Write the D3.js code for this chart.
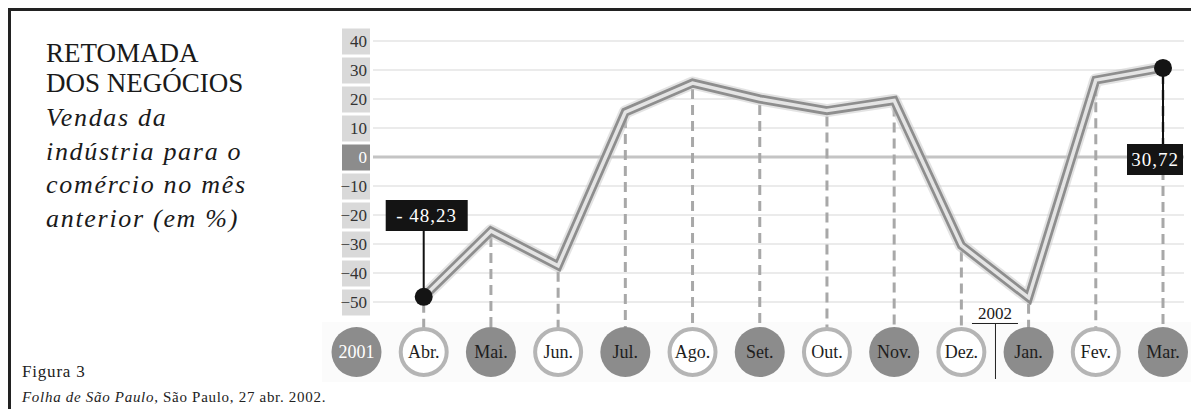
<!DOCTYPE html>
<html>
<head>
<meta charset="utf-8">
<script src="https://cdn.jsdelivr.net/npm/d3@7"></script>
<style>
  body { margin: 0; background: #fff; }
  svg { display: block; font-family: 'Liberation Serif', 'DejaVu Serif', serif; }
</style>
</head>
<body>
<div class="chart"></div>
<script>
// Vendas da industria para o comercio (variacao %, mes anterior)
const CATEGORIES = ['2001', 'Abr.', 'Mai.', 'Jun.', 'Jul.', 'Ago.', 'Set.', 'Out.', 'Nov.', 'Dez.', 'Jan.', 'Fev.', 'Mar.']
const MONTHS = ['Abr.', 'Mai.', 'Jun.', 'Jul.', 'Ago.', 'Set.', 'Out.', 'Nov.', 'Dez.', 'Jan.', 'Fev.', 'Mar.']
const VALUES = [-48.23, -25.5, -37.5, 15.5, 25.5, 20, 16, 19.5, -30.5, -48.5, 26.5, 30.72]
const Y_TICKS = [40, 30, 20, 10, 0, -10, -20, -30, -40, -50]
const TITLE = ['RETOMADA', 'DOS NEGÓCIOS']
const SUBTITLE = ['Vendas da', 'indústria para o', 'comércio no mês', 'anterior (em %)']
const CALLOUTS = [{ month: 'Abr.', text: '- 48,23' }, { month: 'Mar.', text: '30,72' }]

const W = 1191, H = 409

var svg = d3.select('.chart').append('svg')
    .attr('width', W)
    .attr('height', H)

var xScale = d3.scalePoint()
    .domain(CATEGORIES)
    .range([356.5, 1163])

var yScale = d3.scaleLinear()
    .domain([-50, 40])
    .range([302, 41])

var data = MONTHS.map((m, i) => ({ month: m, value: VALUES[i] }))

// frame
svg.append('path')
    .attr('d', `M9.5,${H} V9.5 H${W}`)
    .attr('fill', 'none')
    .attr('stroke', '#222')
    .attr('stroke-width', 3)

// faint band behind month bubbles
svg.append('rect')
    .attr('x', 322).attr('y', 322)
    .attr('width', W - 322).attr('height', 60)
    .attr('fill', '#fbfbfb')

// title block
svg.selectAll('.title')
    .data(TITLE)
    .enter().append('text')
    .attr('class', 'title')
    .attr('x', 46)
    .attr('y', (d, i) => 62 + i * 30)
    .attr('font-size', 27)
    .attr('fill', '#1a1a1a')
    .text(d => d)

svg.selectAll('.subtitle')
    .data(SUBTITLE)
    .enter().append('text')
    .attr('class', 'subtitle')
    .attr('x', 46)
    .attr('y', (d, i) => 126 + i * 33.5)
    .attr('font-size', 26)
    .attr('font-style', 'italic')
    .attr('letter-spacing', 1.7)
    .attr('fill', '#1a1a1a')
    .text(d => d)

// grid lines
svg.append('g').selectAll('line')
    .data(Y_TICKS)
    .enter().append('line')
    .attr('x1', 373).attr('x2', 1184)
    .attr('y1', d => yScale(d)).attr('y2', d => yScale(d))
    .attr('stroke', d => d === 0 ? '#c4c4c4' : '#ebebeb')
    .attr('stroke-width', d => d === 0 ? 3 : 2)

// y axis labels in boxes
var yAxis = svg.append('g')
    .attr('transform', 'translate(370,0)')
    .call(d3.axisLeft(yScale).tickValues(Y_TICKS).tickSize(0).tickPadding(3))
yAxis.select('.domain').remove()
yAxis.selectAll('.tick').insert('rect', 'text')
    .attr('x', -28).attr('y', -13)
    .attr('width', 28).attr('height', 26)
    .attr('fill', d => d === 0 ? '#8c8c8c' : '#d9d9d9')
yAxis.selectAll('.tick text')
    .attr('font-family', "'Liberation Serif', serif")
    .attr('font-size', 17)
    .attr('fill', d => d === 0 ? '#fff' : '#333')

// dashed drop lines
svg.append('g').selectAll('line')
    .data(data)
    .enter().append('line')
    .attr('x1', d => xScale(d.month)).attr('x2', d => xScale(d.month))
    .attr('y1', d => yScale(d.value) + 6).attr('y2', 328)
    .attr('stroke', '#a8a8a8')
    .attr('stroke-width', 3)
    .attr('stroke-dasharray', '10,6')

// the line (double stroke)
var line = d3.line()
    .x(d => xScale(d.month))
    .y(d => yScale(d.value))

svg.append('path')
    .datum(data)
    .attr('d', line)
    .attr('fill', 'none')
    .attr('stroke', '#c8c8c8')
    .attr('stroke-width', 13)
    .attr('stroke-linejoin', 'round')
    .attr('opacity', 0.5)
svg.append('path')
    .datum(data)
    .attr('d', line)
    .attr('fill', 'none')
    .attr('stroke', '#8e8e8e')
    .attr('stroke-width', 9)
svg.append('path')
    .datum(data)
    .attr('d', line)
    .attr('fill', 'none')
    .attr('stroke', '#e4e4e4')
    .attr('stroke-width', 3.5)

// month bubbles
var bubbles = svg.append('g').selectAll('g')
    .data(CATEGORIES)
    .enter().append('g')
    .attr('transform', d => `translate(${xScale(d)}, 352)`)

bubbles.append('circle')
    .attr('r', (d, i) => i % 2 === 0 ? 25 : 23)
    .attr('fill', (d, i) => i % 2 === 0 ? '#8c8c8c' : '#fff')
    .attr('stroke', (d, i) => i % 2 === 0 ? 'none' : '#b5b5b5')
    .attr('stroke-width', 4)

bubbles.append('text')
    .attr('text-anchor', 'middle')
    .attr('dy', 6)
    .attr('font-size', 18)
    .attr('fill', (d, i) => i === 0 ? '#fff' : '#1e1e1e')
    .text(d => d)

// 2002 marker
var sep = (xScale('Dez.') + xScale('Jan.')) / 2
svg.append('text')
    .attr('x', sep).attr('y', 319)
    .attr('text-anchor', 'middle')
    .attr('font-size', 17)
    .attr('fill', '#1a1a1a')
    .text('2002')
svg.append('line')
    .attr('x1', sep - 23).attr('x2', sep + 23)
    .attr('y1', 323.5).attr('y2', 323.5)
    .attr('stroke', '#222')
svg.append('line')
    .attr('x1', sep + 0.5).attr('x2', sep + 0.5)
    .attr('y1', 323.5).attr('y2', 379)
    .attr('stroke', '#222')

// callouts
CALLOUTS.forEach(c => {
    var v = data.find(d => d.month === c.month).value
    var px = xScale(c.month), py = yScale(v)
    var above = c.month === 'Abr.'
    var bx = above ? px - 38 : px - 36
    var bw = above ? 82 : 56
    var by = above ? 200 : 144
    var bh = 31
    svg.append('line')
        .attr('x1', px).attr('x2', px)
        .attr('y1', py).attr('y2', above ? by + bh : by)
        .attr('stroke', '#111').attr('stroke-width', 2)
    svg.append('rect')
        .attr('x', bx).attr('y', by)
        .attr('width', bw).attr('height', bh)
        .attr('fill', '#141414')
    svg.append('text')
        .attr('x', bx + bw / 2).attr('y', by + 22)
        .attr('text-anchor', 'middle')
        .attr('font-size', 19)
        .attr('letter-spacing', 1)
        .attr('fill', '#fff')
        .text(c.text)
    svg.append('circle')
        .attr('cx', px).attr('cy', py)
        .attr('r', 9)
        .attr('fill', '#141414')
})

// source
svg.append('text')
    .attr('x', 22).attr('y', 377)
    .attr('font-size', 17)
    .attr('letter-spacing', 0.8)
    .attr('fill', '#222')
    .text('Figura 3')
var src = svg.append('text')
    .attr('x', 22).attr('y', 402)
    .attr('font-size', 15)
    .attr('letter-spacing', 0.7)
    .attr('fill', '#222')
src.append('tspan').attr('font-style', 'italic').text('Folha de São Paulo')
src.append('tspan').text(', São Paulo, 27 abr. 2002.')
</script>
</body>
</html>
